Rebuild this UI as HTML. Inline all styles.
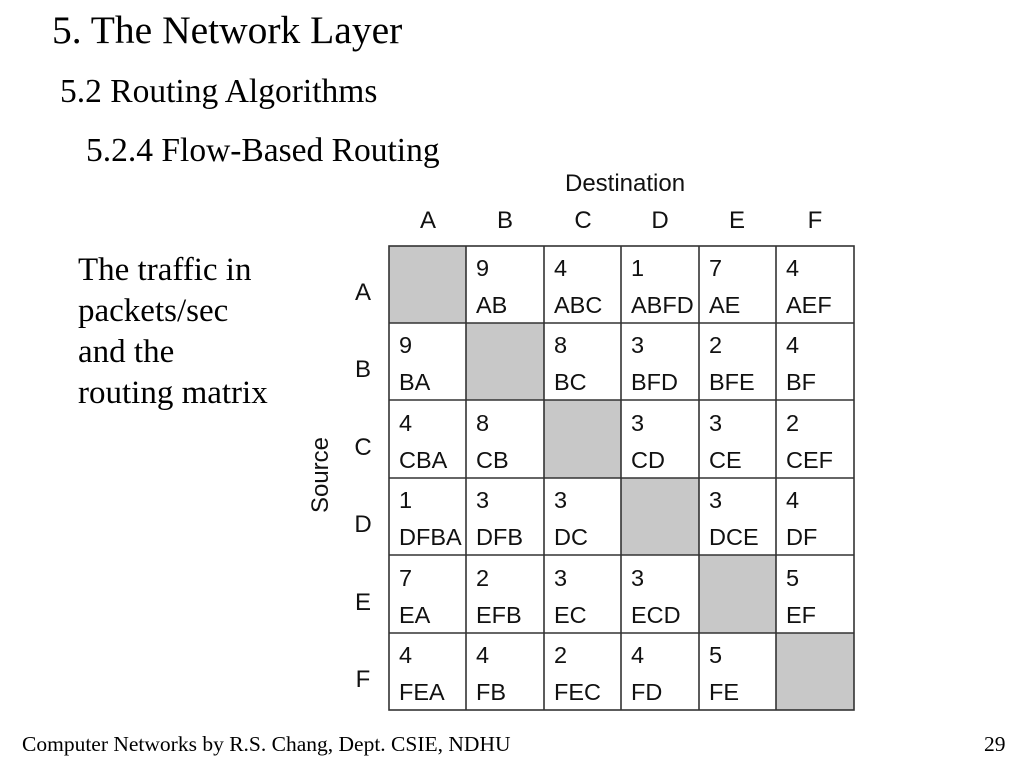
<!DOCTYPE html>
<html><head><meta charset="utf-8"><style>
body{margin:0;background:#fff;}
svg text{font-family:"Liberation Sans",Arial,sans-serif;fill:#111;}
.s{font-family:"Liberation Serif","Times New Roman",serif;fill:#000;}
</style></head><body>
<svg width="1024" height="768" xmlns="http://www.w3.org/2000/svg">
<text class="s" x="52" y="43" font-size="39.5">5. The Network Layer</text>
<text class="s" x="60" y="102" font-size="33.5">5.2 Routing Algorithms</text>
<text class="s" x="86" y="161" font-size="33.5">5.2.4 Flow-Based Routing</text>
<text class="s" x="78" y="280" font-size="33">The traffic in</text>
<text class="s" x="78" y="321" font-size="33">packets/sec</text>
<text class="s" x="78" y="362" font-size="33">and the</text>
<text class="s" x="78" y="403" font-size="33">routing matrix</text>
<text class="s" x="22" y="751" font-size="21.5">Computer Networks by R.S. Chang, Dept. CSIE, NDHU</text>
<text class="s" x="984" y="751" font-size="21.5">29</text>
<text x="565" y="191" font-size="24">Destination</text>
<text x="328" y="475" font-size="24" transform="rotate(-90 328 475)" text-anchor="middle">Source</text>
<g font-size="24" text-anchor="middle">
<text x="428" y="228">A</text><text x="505" y="228">B</text><text x="583" y="228">C</text><text x="660" y="228">D</text><text x="737" y="228">E</text><text x="815" y="228">F</text>
<text x="363" y="300">A</text><text x="363" y="377">B</text><text x="363" y="455">C</text><text x="363" y="532">D</text><text x="363" y="610">E</text><text x="363" y="687">F</text>
</g>
<g fill="#c8c8c8">
<rect x="389" y="246" width="77" height="77"/><rect x="466" y="323" width="78" height="77"/><rect x="544" y="400" width="77" height="78"/><rect x="621" y="478" width="78" height="77"/><rect x="699" y="555" width="77" height="78"/><rect x="776" y="633" width="78" height="77"/>
</g>
<g stroke="#333" stroke-width="1.6" fill="none">
<rect x="389" y="246" width="465" height="464"/>
<line x1="466" y1="246" x2="466" y2="710"/><line x1="544" y1="246" x2="544" y2="710"/><line x1="621" y1="246" x2="621" y2="710"/><line x1="699" y1="246" x2="699" y2="710"/><line x1="776" y1="246" x2="776" y2="710"/>
<line x1="389" y1="323" x2="854" y2="323"/><line x1="389" y1="400" x2="854" y2="400"/><line x1="389" y1="478" x2="854" y2="478"/><line x1="389" y1="555" x2="854" y2="555"/><line x1="389" y1="633" x2="854" y2="633"/>
</g>
<g font-size="23.5">
<text x="476" y="276">9</text><text x="476" y="313">AB</text>
<text x="554" y="276">4</text><text x="554" y="313">ABC</text>
<text x="631" y="276">1</text><text x="631" y="313">ABFD</text>
<text x="709" y="276">7</text><text x="709" y="313">AE</text>
<text x="786" y="276">4</text><text x="786" y="313">AEF</text>

<text x="399" y="353">9</text><text x="399" y="390">BA</text>
<text x="554" y="353">8</text><text x="554" y="390">BC</text>
<text x="631" y="353">3</text><text x="631" y="390">BFD</text>
<text x="709" y="353">2</text><text x="709" y="390">BFE</text>
<text x="786" y="353">4</text><text x="786" y="390">BF</text>

<text x="399" y="431">4</text><text x="399" y="468">CBA</text>
<text x="476" y="431">8</text><text x="476" y="468">CB</text>
<text x="631" y="431">3</text><text x="631" y="468">CD</text>
<text x="709" y="431">3</text><text x="709" y="468">CE</text>
<text x="786" y="431">2</text><text x="786" y="468">CEF</text>

<text x="399" y="508">1</text><text x="399" y="545">DFBA</text>
<text x="476" y="508">3</text><text x="476" y="545">DFB</text>
<text x="554" y="508">3</text><text x="554" y="545">DC</text>
<text x="709" y="508">3</text><text x="709" y="545">DCE</text>
<text x="786" y="508">4</text><text x="786" y="545">DF</text>

<text x="399" y="586">7</text><text x="399" y="623">EA</text>
<text x="476" y="586">2</text><text x="476" y="623">EFB</text>
<text x="554" y="586">3</text><text x="554" y="623">EC</text>
<text x="631" y="586">3</text><text x="631" y="623">ECD</text>
<text x="786" y="586">5</text><text x="786" y="623">EF</text>

<text x="399" y="663">4</text><text x="399" y="700">FEA</text>
<text x="476" y="663">4</text><text x="476" y="700">FB</text>
<text x="554" y="663">2</text><text x="554" y="700">FEC</text>
<text x="631" y="663">4</text><text x="631" y="700">FD</text>
<text x="709" y="663">5</text><text x="709" y="700">FE</text>
</g>
</svg>
</body></html>
